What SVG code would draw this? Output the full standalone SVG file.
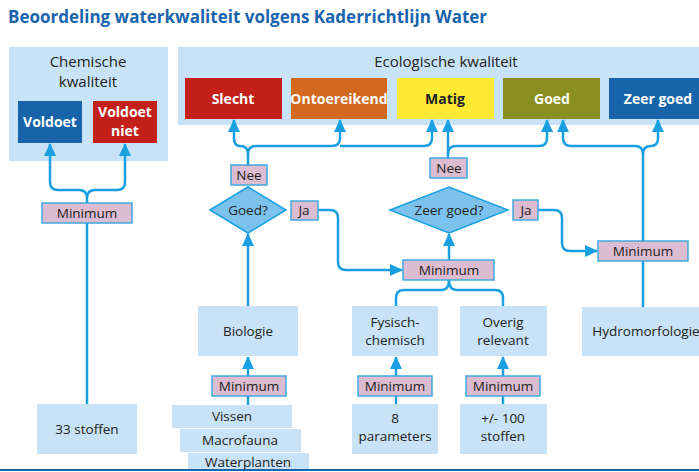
<svg xmlns="http://www.w3.org/2000/svg" width="699" height="472" viewBox="0 0 699 472">
<defs>
<marker id="ah" markerUnits="userSpaceOnUse" markerWidth="14" markerHeight="12" refX="12" refY="6" orient="auto"><path d="M0,0 L13,6 L0,12 Z" fill="#1aa0e0"/></marker>
<style>
text{font-family:"Open Sans","Liberation Sans",sans-serif;font-size:13.5px;fill:#222;text-anchor:middle}
.b{font-weight:bold;fill:#fff;font-size:14px}
.h{font-size:15px}
.panel{fill:#c8e3f8}
.box{fill:#c8e3f8}
.min{fill:#dcbcd0;stroke:#3fa9e0;stroke-width:1.5}
.dia{fill:#7cc2ee;stroke:#1aa0e0;stroke-width:1.5}
.c{fill:none;stroke:#1aa0e0;stroke-width:2.5}
</style>
</defs>
<rect width="699" height="472" fill="#fff"/>
<text x="8" y="23" style="font-size:17px;font-weight:bold;fill:#1a64ad;text-anchor:start">Beoordeling waterkwaliteit volgens Kaderrichtlijn Water</text>
<line x1="0" y1="470" x2="699" y2="470" stroke="#1a64ad" stroke-width="2"/>

<g id="chem-panel"><rect class="panel" x="9" y="47" width="159" height="114"/><text class="h" x="88" y="67">Chemische</text><text class="h" x="88" y="87">kwaliteit</text></g>
<g id="voldoet"><rect x="18" y="101" width="64" height="42" fill="#1764ab"/><text class="b" x="50" y="127">Voldoet</text></g>
<g id="voldoet-niet"><rect x="93" y="101" width="64" height="42" fill="#c4201a"/><text class="b" x="125" y="117">Voldoet</text><text class="b" x="125" y="136">niet</text></g>

<g id="eco-panel"><rect class="panel" x="178" y="47" width="521" height="78"/><text class="h" x="446" y="67">Ecologische kwaliteit</text></g>
<g id="slecht"><rect x="185" y="78" width="97" height="41" fill="#c4201a"/><text class="b" x="233" y="104">Slecht</text></g>
<g id="ontoereikend"><rect x="291" y="78" width="96" height="41" fill="#d2691e"/><text class="b" x="339" y="104">Ontoereikend</text></g>
<g id="matig"><rect x="397" y="78" width="97" height="41" fill="#fcea34"/><text class="b" x="445" y="104" style="fill:#222">Matig</text></g>
<g id="goed"><rect x="503" y="78" width="97" height="41" fill="#8b8f22"/><text class="b" x="552" y="104">Goed</text></g>
<g id="zeergoed"><rect x="609" y="78" width="90" height="41" fill="#1764ab"/><text class="b" x="658" y="104">Zeer goed</text></g>

<g id="connectors">
<path class="c" d="M87,203 V198 Q87,190 79,190 H58 Q50,190 50,182 V144" marker-end="url(#ah)"/>
<path class="c" d="M87,198 Q87,190 95,190 H117 Q125,190 125,182 V144" marker-end="url(#ah)"/>
<line class="c" x1="87" y1="223" x2="87" y2="404"/>
<path class="c" d="M248,165 V154 Q248,146 240,146 Q234,146 234,138 V120" marker-end="url(#ah)"/>
<path class="c" d="M248,154 Q248,146 256,146 H332 Q340,146 340,138 V120" marker-end="url(#ah)"/>
<path class="c" d="M340,146 H424 Q432,146 432,138 V120" marker-end="url(#ah)"/>
<line class="c" x1="448" y1="158" x2="448" y2="120" marker-end="url(#ah)"/>
<path class="c" d="M448,154 Q448,146 456,146 H539 Q547,146 547,138 V120" marker-end="url(#ah)"/>
<path class="c" d="M643,241 V154 Q643,146 635,146 H571 Q563,146 563,138 V120" marker-end="url(#ah)"/>
<path class="c" d="M643,154 Q643,146 651,146 Q658,146 658,138 V120" marker-end="url(#ah)"/>
<line class="c" x1="643" y1="261" x2="643" y2="307"/>
<line class="c" x1="248" y1="306" x2="248" y2="234" marker-end="url(#ah)"/>
<path class="c" d="M318,210 H330 Q338,210 338,218 V262 Q338,270 346,270 H402" marker-end="url(#ah)"/>
<path class="c" d="M538,210 H554 Q562,210 562,218 V243 Q562,251 570,251 H597" marker-end="url(#ah)"/>
<line class="c" x1="449" y1="260" x2="449" y2="234" marker-end="url(#ah)"/>
<path class="c" d="M449,280 Q449,290 441,290 H404 Q396,290 396,298 V306"/>
<path class="c" d="M449,280 Q449,290 457,290 H495 Q503,290 503,298 V306"/>
<line class="c" x1="248" y1="376" x2="248" y2="357" marker-end="url(#ah)"/>
<line class="c" x1="396" y1="376" x2="396" y2="357" marker-end="url(#ah)"/>
<line class="c" x1="503" y1="376" x2="503" y2="357" marker-end="url(#ah)"/>
<line class="c" x1="248" y1="396" x2="248" y2="405"/>
<line class="c" x1="396" y1="396" x2="396" y2="404"/>
<line class="c" x1="503" y1="396" x2="503" y2="404"/>
</g>

<g id="min-chem"><rect class="min" x="42" y="203" width="90" height="20"/><text x="87" y="218">Minimum</text></g>
<g id="stoffen33"><rect class="box" x="37" y="404" width="100" height="50"/><text x="87" y="434">33 stoffen</text></g>
<g id="nee1"><rect class="min" x="231" y="165" width="36" height="20"/><text x="249" y="180">Nee</text></g>
<g id="goed-q"><polygon class="dia" points="210,210 248,187 286,210 248,233"/><text x="248" y="215">Goed?</text></g>
<g id="ja1"><rect class="min" x="291" y="201" width="27" height="19"/><text x="304" y="215">Ja</text></g>
<g id="nee2"><rect class="min" x="430" y="158" width="37" height="20"/><text x="449" y="173">Nee</text></g>
<g id="zeergoed-q"><polygon class="dia" points="390,210 449,187 508,210 449,233"/><text x="449" y="215">Zeer goed?</text></g>
<g id="ja2"><rect class="min" x="513" y="200" width="25" height="20"/><text x="526" y="215">Ja</text></g>
<g id="min-mid"><rect class="min" x="403" y="260" width="91" height="20"/><text x="449" y="275">Minimum</text></g>
<g id="min-right"><rect class="min" x="598" y="241" width="90" height="20"/><text x="643" y="256">Minimum</text></g>
<g id="hydro"><rect class="box" x="582" y="307" width="117" height="49"/><text x="646" y="336">Hydromorfologie</text></g>
<g id="biologie"><rect class="box" x="198" y="306" width="100" height="50"/><text x="248" y="336">Biologie</text></g>
<g id="fysisch"><rect class="box" x="352" y="306" width="86" height="50"/><text x="395" y="327">Fysisch-</text><text x="395" y="345">chemisch</text></g>
<g id="overig"><rect class="box" x="460" y="306" width="87" height="50"/><text x="503" y="327">Overig</text><text x="503" y="345">relevant</text></g>
<g id="min-bio"><rect class="min" x="212" y="376" width="74" height="20"/><text x="249" y="391">Minimum</text></g>
<g id="min-fys"><rect class="min" x="358" y="376" width="74" height="20"/><text x="395" y="391">Minimum</text></g>
<g id="min-ov"><rect class="min" x="466" y="376" width="74" height="20"/><text x="503" y="391">Minimum</text></g>
<g id="vissen"><rect class="box" x="172" y="405" width="120" height="23"/><text x="232" y="421">Vissen</text></g>
<g id="macrofauna"><rect class="box" x="180" y="429" width="121" height="23"/><text x="240" y="445">Macrofauna</text></g>
<g id="waterplanten"><rect class="box" x="188" y="453" width="121" height="16"/><text x="248" y="467">Waterplanten</text></g>
<g id="param8"><rect class="box" x="352" y="404" width="86" height="50"/><text x="395" y="423">8</text><text x="395" y="441">parameters</text></g>
<g id="stoffen100"><rect class="box" x="460" y="404" width="87" height="50"/><text x="503" y="423">+/- 100</text><text x="503" y="441">stoffen</text></g>
</svg>
